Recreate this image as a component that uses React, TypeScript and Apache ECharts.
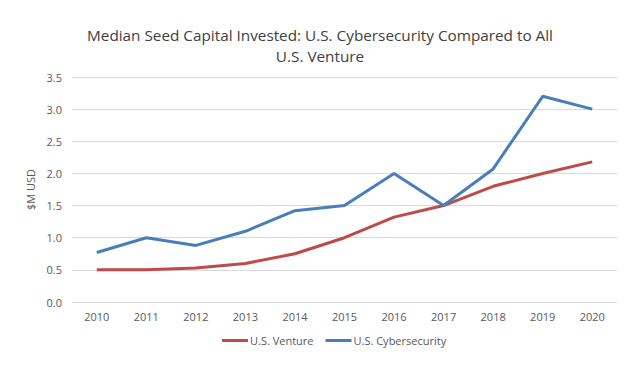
import React, { useEffect, useRef } from "react";
import * as echarts from "echarts";

const years = ["2010", "2011", "2012", "2013", "2014", "2015", "2016", "2017", "2018", "2019", "2020"];
const ventureValues = [0.5, 0.5, 0.53, 0.6, 0.75, 1.0, 1.32, 1.5, 1.8, 2.0, 2.18];
const cyberValues = [0.77, 1.0, 0.88, 1.1, 1.42, 1.5, 2.0, 1.5, 2.07, 3.2, 3.0];

const FONT = "'Open Sans', 'Liberation Sans', sans-serif";

export default function App() {
  const ref = useRef<HTMLDivElement>(null);
  useEffect(() => {
    const chart = echarts.init(ref.current!, undefined, { renderer: "svg" });
    chart.setOption({
      animation: false,
      backgroundColor: "#ffffff",
      title: {
        text: "Median Seed Capital Invested: U.S. Cybersecurity Compared to All\nU.S. Venture",
        left: "center",
        top: 19,
        textStyle: { fontFamily: FONT, fontSize: 15.3, fontWeight: "normal", color: "#404040", lineHeight: 21 },
      },
      legend: {
        bottom: 15,
        left: 217,
        itemWidth: 26,
        itemHeight: 3,
        itemGap: 12,
        icon: "rect",
        textStyle: { fontFamily: FONT, fontSize: 11, color: "#595959", padding: [0, 0, 0, -3] },
        data: ["U.S. Venture", "U.S. Cybersecurity"],
      },
      grid: { left: 72, right: 23, top: 77, bottom: 64 },
      xAxis: {
        type: "category",
        data: years,
        boundaryGap: true,
        axisLine: { show: false },
        axisTick: { show: false },
        axisLabel: { fontFamily: FONT, fontSize: 11, color: "#595959", margin: 9 },
      },
      yAxis: {
        type: "value",
        min: 0,
        max: 3.5,
        interval: 0.5,
        name: "$M USD",
        nameLocation: "middle",
        nameGap: 34,
        nameTextStyle: { fontFamily: FONT, fontSize: 11, color: "#595959" },
        axisLabel: { fontFamily: FONT, fontSize: 11, color: "#595959", formatter: (v: number) => v.toFixed(1), margin: 10 },
        splitLine: { lineStyle: { color: "#d9d9d9", width: 1 } },
      },
      series: [
        {
          name: "U.S. Venture",
          type: "line",
          data: ventureValues,
          symbol: "none",
          lineStyle: { color: "#be4b48", width: 3 },
          itemStyle: { color: "#be4b48" },
        },
        {
          name: "U.S. Cybersecurity",
          type: "line",
          data: cyberValues,
          symbol: "none",
          lineStyle: { color: "#4a7ebb", width: 3 },
          itemStyle: { color: "#4a7ebb" },
        },
      ],
    });
    return () => chart.dispose();
  }, []);
  return <div ref={ref} style={{ width: 640, height: 366, position: "absolute", left: 0, top: 0 }} />;
}
